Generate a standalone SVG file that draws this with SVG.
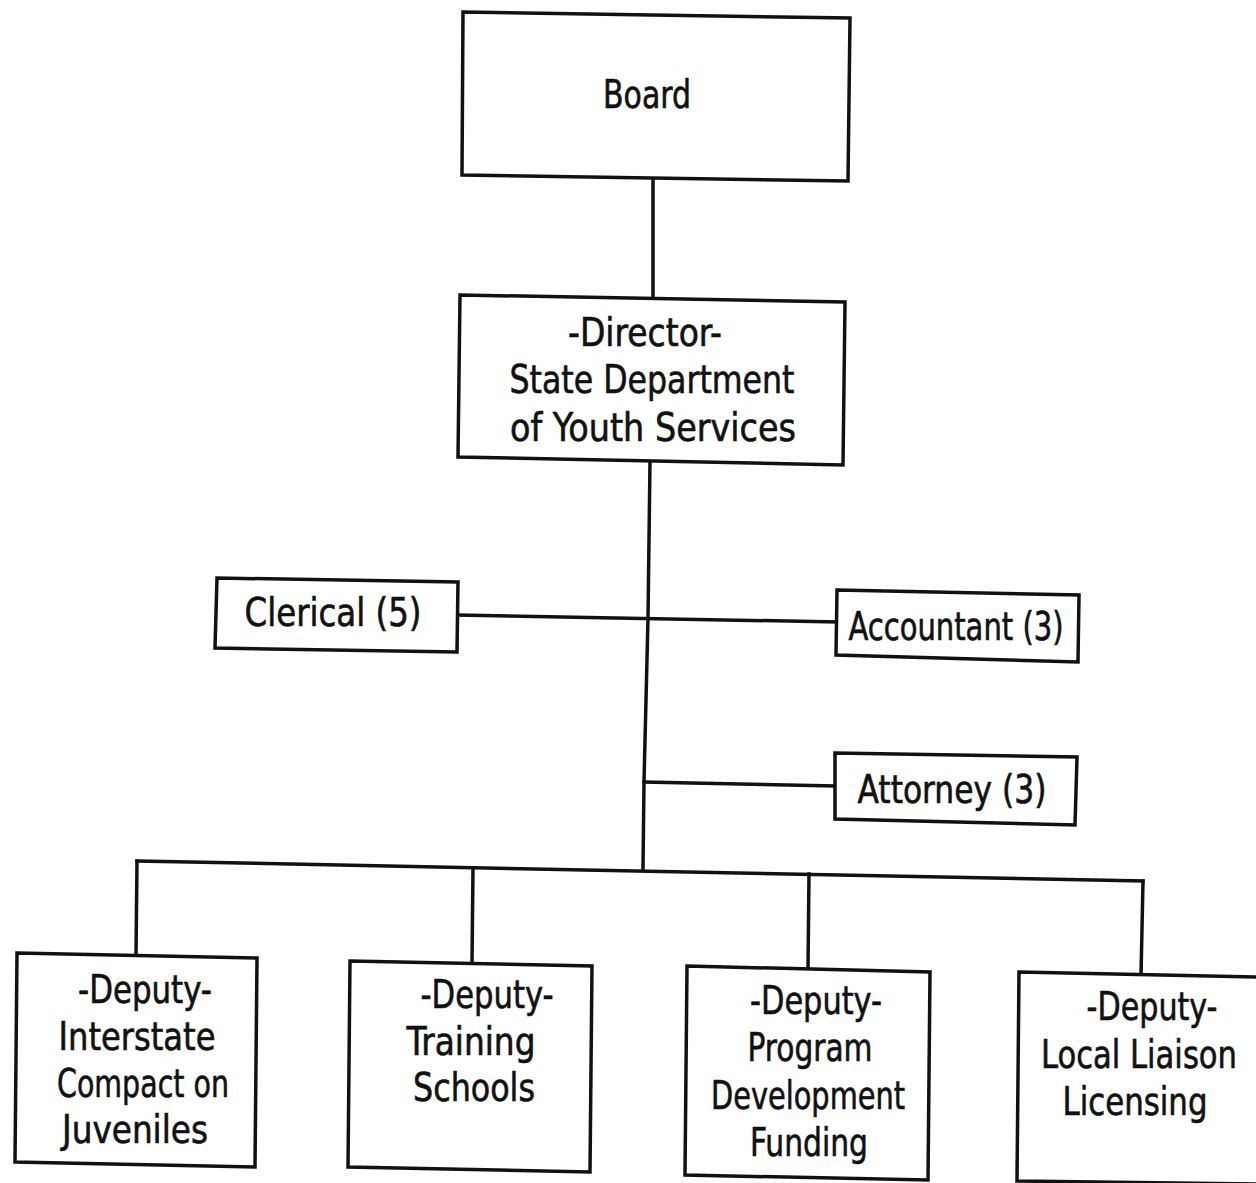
<svg xmlns="http://www.w3.org/2000/svg" width="1256" height="1183" viewBox="0 0 1256 1183">
  <style>
    .box { fill: #ffffff; stroke: #111111; stroke-width: 3.5; stroke-linejoin: miter; }
    .wire { fill: none; stroke: #111111; stroke-width: 3.5; stroke-linecap: square; }
    .lbl { font-family: "Liberation Sans Narrow", "DejaVu Sans Condensed", "Liberation Sans", sans-serif; font-size: 39px; fill: #111111; stroke: #111111; stroke-width: 0.6; text-anchor: middle; }
  </style>
  <rect x="0" y="0" width="1256" height="1183" fill="#ffffff"/>

  <!-- connectors -->
  <g id="connectors">
    <line class="wire" x1="653" y1="181" x2="653" y2="298"/>
    <polyline class="wire" points="650,462 648,618 644,782 643,869"/>
    <line class="wire" x1="457" y1="615" x2="837" y2="622"/>
    <line class="wire" x1="644" y1="782" x2="835" y2="786"/>
    <line class="wire" x1="137" y1="861" x2="1143" y2="881"/>
    <line class="wire" x1="137" y1="861" x2="136" y2="955"/>
    <line class="wire" x1="473" y1="868" x2="472" y2="963"/>
    <line class="wire" x1="809" y1="874" x2="808" y2="969"/>
    <line class="wire" x1="1143" y1="881" x2="1141" y2="976"/>
  </g>

  <!-- Board -->
  <g id="board">
    <polygon class="box" points="463,12 850,18 848,181 462,175"/>
    <text class="lbl" x="647" y="108" textLength="88" lengthAdjust="spacingAndGlyphs">Board</text>
  </g>

  <!-- Director -->
  <g id="director">
    <polygon class="box" points="460,295 845,302 843,465 458,457"/>
    <text class="lbl" x="645" y="346" textLength="154" lengthAdjust="spacingAndGlyphs">-Director-</text>
    <text class="lbl" x="652" y="393" textLength="285" lengthAdjust="spacingAndGlyphs">State Department</text>
    <text class="lbl" x="653" y="441" textLength="286" lengthAdjust="spacingAndGlyphs">of Youth Services</text>
  </g>

  <!-- Clerical -->
  <g id="clerical">
    <polygon class="box" points="217,578 458,582 457,652 215,648"/>
    <text class="lbl" x="333" y="626" textLength="177" lengthAdjust="spacingAndGlyphs">Clerical (5)</text>
  </g>

  <!-- Accountant -->
  <g id="accountant">
    <polygon class="box" points="837,590 1079,595 1078,662 836,655"/>
    <text class="lbl" x="956" y="640" textLength="215" lengthAdjust="spacingAndGlyphs">Accountant (3)</text>
  </g>

  <!-- Attorney -->
  <g id="attorney">
    <polygon class="box" points="835,753 1077,757 1075,825 835,819"/>
    <text class="lbl" x="952" y="803" textLength="189" lengthAdjust="spacingAndGlyphs">Attorney (3)</text>
  </g>

  <!-- Deputy: Interstate Compact -->
  <g id="deputy-interstate">
    <polygon class="box" points="17,953 257,958 255,1167 15,1162"/>
    <text class="lbl" x="145" y="1003" textLength="134" lengthAdjust="spacingAndGlyphs">-Deputy-</text>
    <text class="lbl" x="137" y="1050" textLength="157" lengthAdjust="spacingAndGlyphs">Interstate</text>
    <text class="lbl" x="143" y="1097" textLength="172" lengthAdjust="spacingAndGlyphs">Compact on</text>
    <text class="lbl" x="135" y="1143" textLength="146" lengthAdjust="spacingAndGlyphs">Juveniles</text>
  </g>

  <!-- Deputy: Training Schools -->
  <g id="deputy-training">
    <polygon class="box" points="350,961 592,966 590,1172 348,1167"/>
    <text class="lbl" x="487" y="1008" textLength="133" lengthAdjust="spacingAndGlyphs">-Deputy-</text>
    <text class="lbl" x="471" y="1055" textLength="129" lengthAdjust="spacingAndGlyphs">Training</text>
    <text class="lbl" x="474" y="1101" textLength="122" lengthAdjust="spacingAndGlyphs">Schools</text>
  </g>

  <!-- Deputy: Program Development Funding -->
  <g id="deputy-program">
    <polygon class="box" points="687,966 930,972 928,1180 685,1175"/>
    <text class="lbl" x="816" y="1014" textLength="132" lengthAdjust="spacingAndGlyphs">-Deputy-</text>
    <text class="lbl" x="810" y="1061" textLength="125" lengthAdjust="spacingAndGlyphs">Program</text>
    <text class="lbl" x="808" y="1109" textLength="194" lengthAdjust="spacingAndGlyphs">Development</text>
    <text class="lbl" x="809" y="1156" textLength="118" lengthAdjust="spacingAndGlyphs">Funding</text>
  </g>

  <!-- Deputy: Local Liaison Licensing (box runs past the right edge) -->
  <g id="deputy-liaison">
    <polygon class="box" points="1019,972 1262,977 1262,1184 1017,1181"/>
    <text class="lbl" x="1152" y="1020" textLength="131" lengthAdjust="spacingAndGlyphs">-Deputy-</text>
    <text class="lbl" x="1139" y="1068" textLength="196" lengthAdjust="spacingAndGlyphs">Local Liaison</text>
    <text class="lbl" x="1135" y="1115" textLength="145" lengthAdjust="spacingAndGlyphs">Licensing</text>
  </g>
</svg>
